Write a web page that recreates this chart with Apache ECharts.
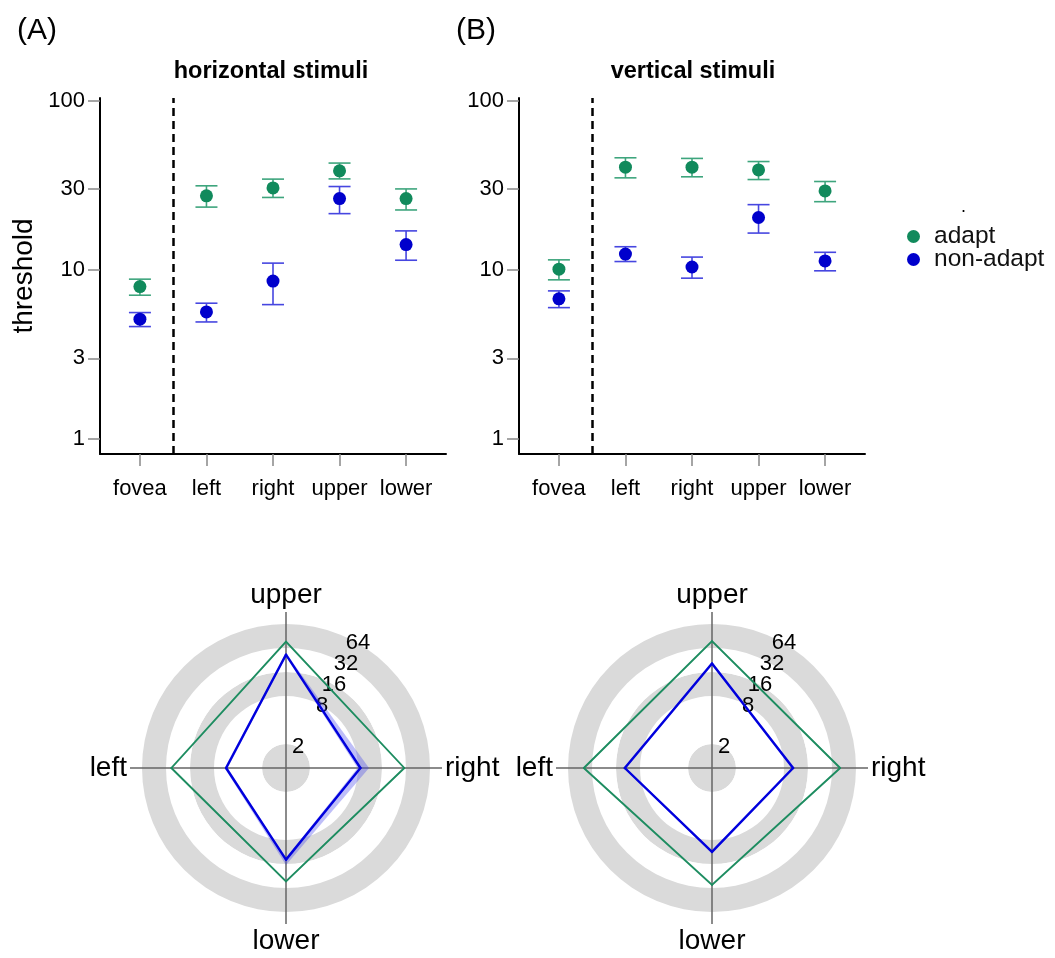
<!DOCTYPE html>
<html>
<head>
<meta charset="utf-8">
<script src="https://cdn.jsdelivr.net/npm/echarts@6/dist/echarts.min.js"></script>
<style>html,body{margin:0;padding:0;background:#fff}#c{width:1055px;height:958px}</style>
</head>
<body>
<div id="c"></div>
<script>
// ---------- data ----------
const categories = ['fovea', 'left', 'right', 'upper', 'lower'];
const yTicks = [1, 3, 10, 30, 100];

// horizontal stimuli
const hAdapt     = [7.96, 27.4, 30.5, 38.5, 26.4];
const hAdaptLo   = [7.08, 23.5, 26.8, 34.5, 22.6];
const hAdaptHi   = [8.81, 31.4, 34.4, 42.8, 30.1];
const hNon       = [5.11, 5.64, 8.58, 26.4, 14.1];
const hNonLo     = [4.62, 4.92, 6.23, 21.5, 11.4];
const hNonHi     = [5.59, 6.35, 10.96, 31.1, 17.0];

// vertical stimuli
const vAdapt     = [10.1, 40.5, 40.5, 39.0, 29.3];
const vAdaptLo   = [8.73, 35.0, 35.5, 34.2, 25.3];
const vAdaptHi   = [11.46, 46.0, 45.6, 43.7, 33.3];
const vNon       = [6.74, 12.4, 10.4, 20.4, 11.3];
const vNonLo     = [5.98, 11.2, 8.93, 16.5, 9.87];
const vNonHi     = [7.51, 13.7, 11.9, 24.3, 12.7];

// radar plots
const directions = ['upper', 'right', 'lower', 'left'];
const ringLabels = [2, 8, 16, 32, 64];
// shaded bands around the radar outlines (upper, right, lower, left)
const hAdaptBandLo = [37.0, 29.5, 25.5, 26.5];
const hAdaptBandHi = [40.0, 31.5, 27.5, 28.5];
const hNonBandLo   = [25.0, 7.9, 13.5, 5.4];
const hNonBandHi   = [27.5, 11.0, 16.5, 5.9];
const vAdaptBandLo = [37.5, 39.0, 28.2, 39.0];
const vAdaptBandHi = [40.5, 42.0, 30.5, 42.0];
const vNonBandLo   = [19.5, 10.0, 10.8, 11.9];
const vNonBandHi   = [21.5, 10.9, 11.8, 12.9];

// ---------- styling ----------
const FONT = 'Liberation Sans, Arial, Helvetica, sans-serif';
const GREEN = '#118a5c', GREEN_BAR = '#3ea57d';
const BLUE = '#0000cc', BLUE_BAR = '#4646e0';
const GREEN_LINE = '#1d8c60', GREEN_BAND = 'rgba(50,165,115,0.32)';
const BLUE_LINE = '#0000dd', BLUE_BAND = 'rgba(70,70,235,0.35)';

const chart = echarts.init(document.getElementById('c'), null, {renderer: 'canvas'});

function xy(vals) { return vals.map((v, i) => [i + 1, v]); }

function errRender(lo, hi, color) {
  return function (params, api) {
    const i = params.dataIndex;
    const x = api.value(0);
    const t = api.coord([x, hi[i]]);
    const b = api.coord([x, lo[i]]);
    const hw = 11;
    const st = {stroke: color, lineWidth: 1.6};
    return {type: 'group', children: [
      {type: 'line', shape: {x1: t[0], y1: t[1], x2: b[0], y2: b[1]}, style: st},
      {type: 'line', shape: {x1: t[0] - hw, y1: t[1], x2: t[0] + hw, y2: t[1]}, style: st},
      {type: 'line', shape: {x1: b[0] - hw, y1: b[1], x2: b[0] + hw, y2: b[1]}, style: st}
    ]};
  };
}

function bandRender(lo, hi, color) {
  return function (params, api) {
    const i = params.dataIndex, j = (i + 1) % directions.length;
    const pts = [api.coord([hi[i], i]), api.coord([hi[j], j]), api.coord([lo[j], j]), api.coord([lo[i], i])];
    return {type: 'polygon', shape: {points: pts}, style: {fill: color}};
  };
}

function edgeRender(vals, color, width) {
  return function (params, api) {
    const i = params.dataIndex, j = (i + 1) % directions.length;
    const pts = [api.coord([vals[i], i]), api.coord([vals[j], j])];
    return {type: 'polyline', shape: {points: pts},
      style: {stroke: color, lineWidth: width, fill: null, lineCap: 'round', lineJoin: 'round'}};
  };
}

function pick(arr) { return directions.map(d => arr[categories.indexOf(d)]); }

const grids = [
  {left: 100, top: 98, width: 346, height: 356},
  {left: 519, top: 98, width: 346, height: 356}
];

function xAxisFor(gi) {
  return {
    gridIndex: gi, type: 'value', min: 0.4, max: 5.6,
    axisLine: {show: true, onZero: false, lineStyle: {color: '#000', width: 2}},
    axisTick: {show: true, length: 12, customValues: [1, 2, 3, 4, 5], lineStyle: {color: '#888', width: 1.5}},
    axisLabel: {customValues: [1, 2, 3, 4, 5], margin: 24, fontSize: 22, color: '#000', fontFamily: FONT,
      formatter: v => categories[Math.round(v) - 1] || ''},
    splitLine: {show: false}
  };
}
function yAxisFor(gi, withName) {
  const ax = {
    gridIndex: gi, type: 'log', logBase: 10, min: 0.815, max: 103.8,
    axisLine: {show: true, lineStyle: {color: '#000', width: 2}},
    axisTick: {show: true, length: 12, customValues: yTicks, lineStyle: {color: '#888', width: 1.5}},
    axisLabel: {customValues: yTicks, margin: 15, fontSize: 22, color: '#000', fontFamily: FONT,
      formatter: v => String(Math.round(v))},
    splitLine: {show: false}
  };
  if (withName) {
    ax.name = 'threshold';
    ax.nameLocation = 'middle';
    ax.nameGap = 62;
    ax.nameTextStyle = {fontSize: 28, color: '#000', fontFamily: FONT};
  }
  return ax;
}

function panelSeries(gi, adapt, aLo, aHi, non, nLo, nHi) {
  return [
    {type: 'custom', xAxisIndex: gi, yAxisIndex: gi, renderItem: errRender(aLo, aHi, GREEN_BAR),
      data: xy(adapt), encode: {x: 0, y: 1}, z: 2, silent: true},
    {type: 'custom', xAxisIndex: gi, yAxisIndex: gi, renderItem: errRender(nLo, nHi, BLUE_BAR),
      data: xy(non), encode: {x: 0, y: 1}, z: 2, silent: true},
    {name: 'adapt', type: 'scatter', xAxisIndex: gi, yAxisIndex: gi, symbolSize: 13,
      itemStyle: {color: GREEN, opacity: 1}, data: xy(adapt), z: 4,
      markLine: {silent: true, symbol: 'none', label: {show: false},
        lineStyle: {color: '#000', width: 2.5, type: [8, 5]}, data: [{xAxis: 1.5}]}},
    {name: 'non-adapt', type: 'scatter', xAxisIndex: gi, yAxisIndex: gi, symbolSize: 13,
      itemStyle: {color: BLUE, opacity: 1}, data: xy(non), z: 4}
  ];
}

function ringLabel(v) {
  const hit = ringLabels.find(r => Math.abs(r - v) < 1e-6);
  return hit === undefined ? '' : String(hit);
}

const polarCenters = [[286, 768], [712, 768]];
const RING_R = 144, AXIS_R = 156;
const polars = [], angleAxes = [], radiusAxes = [];
polarCenters.forEach((c, k) => {
  polars.push({center: c, radius: RING_R});
  polars.push({center: c, radius: AXIS_R});
  angleAxes.push({polarIndex: 2 * k, type: 'value', min: 0, max: 360, startAngle: 60,
    axisLine: {show: false}, axisTick: {show: false}, axisLabel: {show: false}, splitLine: {show: false}});
  angleAxes.push({polarIndex: 2 * k + 1, type: 'category', data: directions, startAngle: 90, boundaryGap: false,
    axisLine: {show: false}, axisTick: {show: false},
    axisLabel: {show: true, margin: 3, fontSize: 28, color: '#000', fontFamily: FONT},
    splitLine: {show: true, lineStyle: {color: '#666', width: 1.5}}});
  radiusAxes.push({polarIndex: 2 * k, type: 'log', logBase: 2, min: 1, max: 64.0001,
    axisLine: {show: false}, axisTick: {show: false}, splitLine: {show: false},
    splitArea: {show: true, areaStyle: {color: ['#dadada', '#ffffff', '#ffffff', '#dadada', '#ffffff', '#dadada']}},
    axisLabel: {show: true, margin: 0, align: 'center', verticalAlign: 'middle', hideOverlap: false,
      lineHeight: 14, fontSize: 22, color: '#000', fontFamily: FONT, formatter: ringLabel},
    z: 0});
  radiusAxes.push({polarIndex: 2 * k + 1, type: 'log', logBase: 2, min: 1, max: Math.pow(2, 6 * AXIS_R / RING_R),
    show: false});
});

function radarSeries(pi, adapt, aBandLo, aBandHi, non, nBandLo, nBandHi) {
  const a = pick(adapt), n = pick(non);
  const base = {type: 'custom', coordinateSystem: 'polar', polarIndex: pi, silent: true, clip: false};
  return [
    Object.assign({}, base, {renderItem: bandRender(aBandLo, aBandHi, GREEN_BAND), data: a.map((v, i) => [v, i]), z: 3}),
    Object.assign({}, base, {renderItem: bandRender(nBandLo, nBandHi, BLUE_BAND), data: n.map((v, i) => [v, i]), z: 3}),
    Object.assign({}, base, {renderItem: edgeRender(a, GREEN_LINE, 1.8), data: a.map((v, i) => [v, i]), z: 5}),
    Object.assign({}, base, {renderItem: edgeRender(n, BLUE_LINE, 2.4), data: n.map((v, i) => [v, i]), z: 5})
  ];
}

const option = {
  backgroundColor: '#fff',
  animation: false,
  textStyle: {fontFamily: FONT},
  title: [
    {text: '(A)', left: 12, top: 11, textStyle: {fontSize: 30, fontWeight: 'normal', color: '#000', fontFamily: FONT}},
    {text: '(B)', left: 451, top: 11, textStyle: {fontSize: 30, fontWeight: 'normal', color: '#000', fontFamily: FONT}},
    {text: 'horizontal stimuli', left: 266, top: 55, textAlign: 'center',
      textStyle: {fontSize: 23.5, fontWeight: 'bold', color: '#000', fontFamily: FONT}},
    {text: 'vertical stimuli', left: 688, top: 55, textAlign: 'center',
      textStyle: {fontSize: 23.5, fontWeight: 'bold', color: '#000', fontFamily: FONT}},
    {text: '.', left: 956, top: 193, textStyle: {fontSize: 18, fontWeight: 'normal', color: '#000', fontFamily: FONT}}
  ],
  legend: {
    data: ['adapt', 'non-adapt'], orient: 'vertical', left: 902, top: 219,
    icon: 'circle', itemWidth: 31, itemHeight: 13, itemGap: -2,
    textStyle: {fontSize: 24.5, lineHeight: 23, color: '#111', fontFamily: FONT}, selectedMode: false
  },
  grid: grids,
  xAxis: [xAxisFor(0), xAxisFor(1)],
  yAxis: [yAxisFor(0, true), yAxisFor(1, false)],
  polar: polars,
  angleAxis: angleAxes,
  radiusAxis: radiusAxes,
  series: [].concat(
    panelSeries(0, hAdapt, hAdaptLo, hAdaptHi, hNon, hNonLo, hNonHi),
    panelSeries(1, vAdapt, vAdaptLo, vAdaptHi, vNon, vNonLo, vNonHi),
    radarSeries(1, hAdapt, hAdaptBandLo, hAdaptBandHi, hNon, hNonBandLo, hNonBandHi),
    radarSeries(3, vAdapt, vAdaptBandLo, vAdaptBandHi, vNon, vNonBandLo, vNonBandHi)
  )
};
chart.setOption(option);
</script>
</body>
</html>
